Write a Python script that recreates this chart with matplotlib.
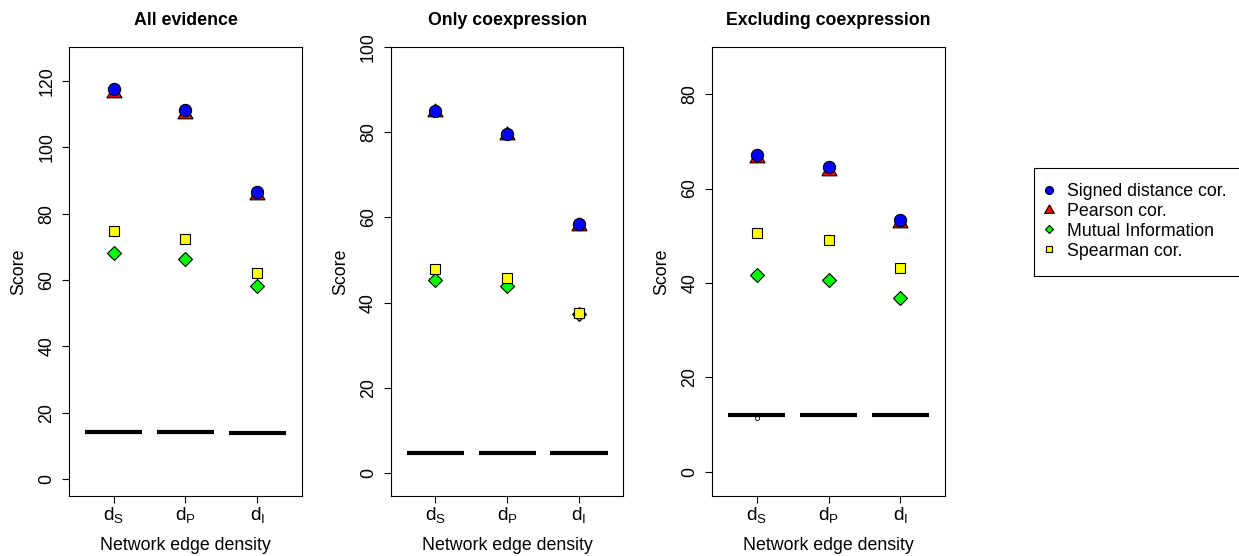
import numpy as np
import matplotlib
matplotlib.use('Agg')
import matplotlib.pyplot as plt
from matplotlib.patches import Rectangle

plt.rcParams['font.family'] = ['Liberation Sans', 'DejaVu Sans']
plt.rcParams['mathtext.fontset'] = 'custom'
plt.rcParams['mathtext.rm'] = 'Liberation Sans'
plt.rcParams['mathtext.it'] = 'Liberation Sans'

# data
densities = [r'$\mathregular{d_S}$', r'$\mathregular{d_P}$', r'$\mathregular{d_I}$']
titles = ['All evidence', 'Only coexpression', 'Excluding coexpression']
series_names = ['Signed distance cor.', 'Pearson cor.', 'Mutual Information', 'Spearman cor.']

signed_dist = [[117.5, 111.2, 86.6], [85.0, 79.7, 58.5], [67.1, 64.6, 53.3]]
pearson = [[116.4, 110.1, 85.6], [84.8, 79.4, 57.9], [66.4, 63.7, 52.7]]
mutual_info = [[68.3, 66.3, 58.3], [45.4, 44.0, 37.3], [41.7, 40.7, 36.9]]
spearman = [[74.9, 72.4, 62.1], [48.0, 45.9, 37.6], [50.5, 49.2, 43.1]]
random_base = [[14.1, 14.1, 14.0], [4.7, 4.7, 4.7], [11.9, 12.0, 11.9]]
outliers = [[], [], [(1, 11.3)]]

ylims = [(-5.0, 130.3), (-5.3, 100.0), (-5.1, 90.0)]
yticks = [np.arange(0, 121, 20), np.arange(0, 101, 20), np.arange(0, 81, 20)]
lefts = [69.3, 391.0, 712.3]

W, H = 1239, 556
fig = plt.figure(figsize=(W / 100, H / 100), dpi=100)

# R-style triangle (centroid on the point)
tri = [(0, 1), (-0.866, -0.5), (0.866, -0.5), (0, 1)]

x = np.arange(1, 4)
fs = 12.8
handles = None
for i in range(3):
    ax = fig.add_axes([lefts[i] / W, 1 - 495.7 / H, 232.4 / W, (495.7 - 47) / H])
    # baseline (random networks)
    ax.hlines(random_base[i], x - 0.4, x + 0.4, colors='black', linewidth=3.0, zorder=2)
    for (ox, oy) in outliers[i]:
        ax.plot(ox, oy, 'o', mfc='white', mec='black', ms=3, mew=0.6, zorder=1)
    h_tri, = ax.plot(x, pearson[i], linestyle='none', marker=tri, ms=12.5, mfc='#FF0000',
                     mec='black', mew=0.8, zorder=3)
    h_circ, = ax.plot(x, signed_dist[i], 'o', ms=8.8, mfc='#0000FF', mec='black', mew=0.8, zorder=4)
    h_dia, = ax.plot(x, mutual_info[i], 'D', ms=7.0, mfc='#00FF00', mec='black', mew=0.8, zorder=3)
    h_sq, = ax.plot(x, spearman[i], 's', ms=7.6, mfc='#FFFF00', mec='black', mew=0.8, zorder=4)
    if handles is None:
        handles = [h_circ, h_tri, h_dia, h_sq]

    ax.set_xlim(0.38, 3.62)
    ax.set_ylim(*ylims[i])
    ax.set_xticks(x)
    ax.set_xticklabels(densities, fontsize=fs + 1)
    ax.set_yticks(yticks[i])
    ax.set_yticklabels([str(v) for v in yticks[i]], rotation=90, va='center', fontsize=fs)
    ax.tick_params(axis='both', direction='out', length=5, width=0.8, color='black')
    ax.tick_params(axis='y', pad=5)
    ax.tick_params(axis='x', pad=1.5)
    for s in ax.spines.values():
        s.set_linewidth(0.8)
    ax.set_title(titles[i], fontsize=fs, fontweight='bold', pad=16)
    ax.set_xlabel('Network edge density', fontsize=fs, labelpad=9)
    ax.set_ylabel('Score', fontsize=fs, labelpad=8)

# legend box drawn separately so the padding can match
fig.patches.append(Rectangle((1034 / W, 1 - 276 / H), 210 / W, 108 / H,
                             transform=fig.transFigure, fill=False,
                             edgecolor='black', linewidth=0.8))
leg = fig.legend(handles, series_names, loc='upper left',
                 bbox_to_anchor=(1043 / W, 1 - 183 / H), borderaxespad=0,
                 fontsize=fs, markerscale=0.65, frameon=False,
                 handlelength=0.7, handletextpad=0.65, labelspacing=0.16, borderpad=0)

fig.savefig('out.png', dpi=100)
